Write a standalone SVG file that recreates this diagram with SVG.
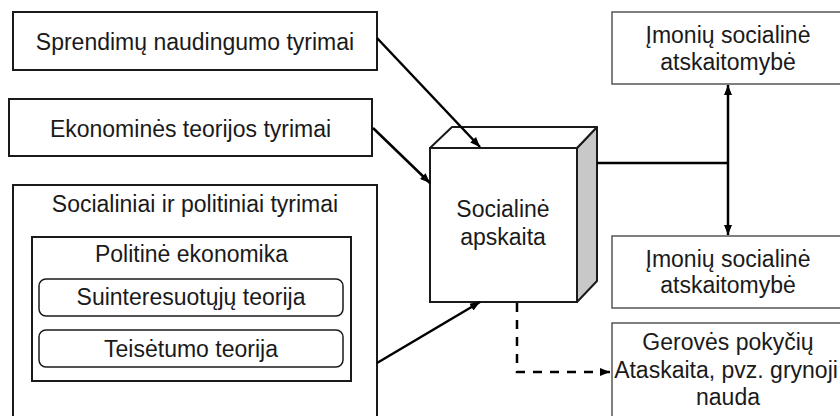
<svg xmlns="http://www.w3.org/2000/svg" width="840" height="416" viewBox="0 0 840 416">
  <defs>
    <marker id="ah" viewBox="0 0 10 8" refX="10" refY="4" markerWidth="10" markerHeight="8" markerUnits="userSpaceOnUse" orient="auto">
      <path d="M0,0 L10,4 L0,8 Z" fill="#000"/>
    </marker>
    <style>
      text { font-family: "Liberation Sans", Arial, sans-serif; font-size: 23px; fill: #1a1a1a; text-anchor: middle; }
      .box { fill: #fff; stroke: #1a1a1a; stroke-width: 2; }
      .rbox { fill: #fff; stroke: #555; stroke-width: 1.5; }
      .rr { fill: #fff; stroke: #1a1a1a; stroke-width: 1.5; }
      .conn { fill: none; stroke: #000; stroke-width: 2.5; }
      .dash { fill: none; stroke: #000; stroke-width: 2.5; stroke-dasharray: 9 8; }
    </style>
  </defs>
  <rect width="840" height="416" fill="#fff"/>

  <g id="n-sprendimu">
    <rect class="box" x="13" y="12" width="364" height="58"/>
    <text x="195" y="50">Sprendimų naudingumo tyrimai</text>
  </g>

  <g id="n-ekonomines">
    <rect class="box" x="9" y="99" width="363" height="57"/>
    <text x="190.5" y="137">Ekonominės teorijos tyrimai</text>
  </g>

  <g id="n-socialiniai">
    <rect class="box" x="13" y="185" width="364" height="240"/>
    <text x="195" y="212">Socialiniai ir politiniai tyrimai</text>
    <g id="n-politine">
      <rect class="box" x="32" y="237" width="319" height="144"/>
      <text x="191.5" y="262">Politinė ekonomika</text>
    </g>
    <g id="n-suinteresuotuju">
      <rect class="rr" x="39" y="279" width="304" height="37" rx="7"/>
      <text x="191" y="305">Suinteresuotųjų teorija</text>
    </g>
    <g id="n-teisetumo">
      <rect class="rr" x="39" y="330" width="304" height="37" rx="7"/>
      <text x="191" y="357">Teisėtumo teorija</text>
    </g>
  </g>

  <g id="n-socialine-apskaita">
    <polygon points="577,148 597,127 597,281 577,302" fill="#c8c8c8" stroke="#1a1a1a" stroke-width="2" stroke-linejoin="round"/>
    <polygon points="430,148 452,127 597,127 577,148" fill="#fff" stroke="#1a1a1a" stroke-width="2" stroke-linejoin="round"/>
    <rect class="box" x="430" y="148" width="147" height="154"/>
    <text x="503" y="217">Socialinė</text>
    <text x="503" y="245">apskaita</text>
  </g>

  <g id="n-imoniu1">
    <rect class="rbox" x="612" y="12" width="240" height="72"/>
    <text x="728" y="43">Įmonių socialinė</text>
    <text x="728" y="70">atskaitomybė</text>
  </g>

  <g id="n-imoniu2">
    <rect class="rbox" x="612" y="236" width="240" height="72"/>
    <text x="728" y="267">Įmonių socialinė</text>
    <text x="728" y="293">atskaitomybė</text>
  </g>

  <g id="n-geroves">
    <rect class="rbox" x="612" y="323" width="240" height="110"/>
    <text x="728" y="350">Gerovės pokyčių</text>
    <text x="726" y="378">Ataskaita, pvz. grynoji</text>
    <text x="728" y="405">nauda</text>
  </g>

  <g id="connectors">
    <line class="conn" x1="377" y1="38" x2="480" y2="147" marker-end="url(#ah)"/>
    <line class="conn" x1="373" y1="128" x2="430" y2="183" marker-end="url(#ah)"/>
    <line class="conn" x1="377" y1="363" x2="480" y2="302" marker-end="url(#ah)"/>
    <line class="conn" x1="597" y1="163" x2="728" y2="163"/>
    <line class="conn" x1="728" y1="163" x2="728" y2="85" marker-end="url(#ah)"/>
    <line class="conn" x1="728" y1="163" x2="728" y2="235" marker-end="url(#ah)"/>
    <path class="dash" d="M517,303 L517,372 L610,372" marker-end="url(#ah)"/>
  </g>
</svg>
